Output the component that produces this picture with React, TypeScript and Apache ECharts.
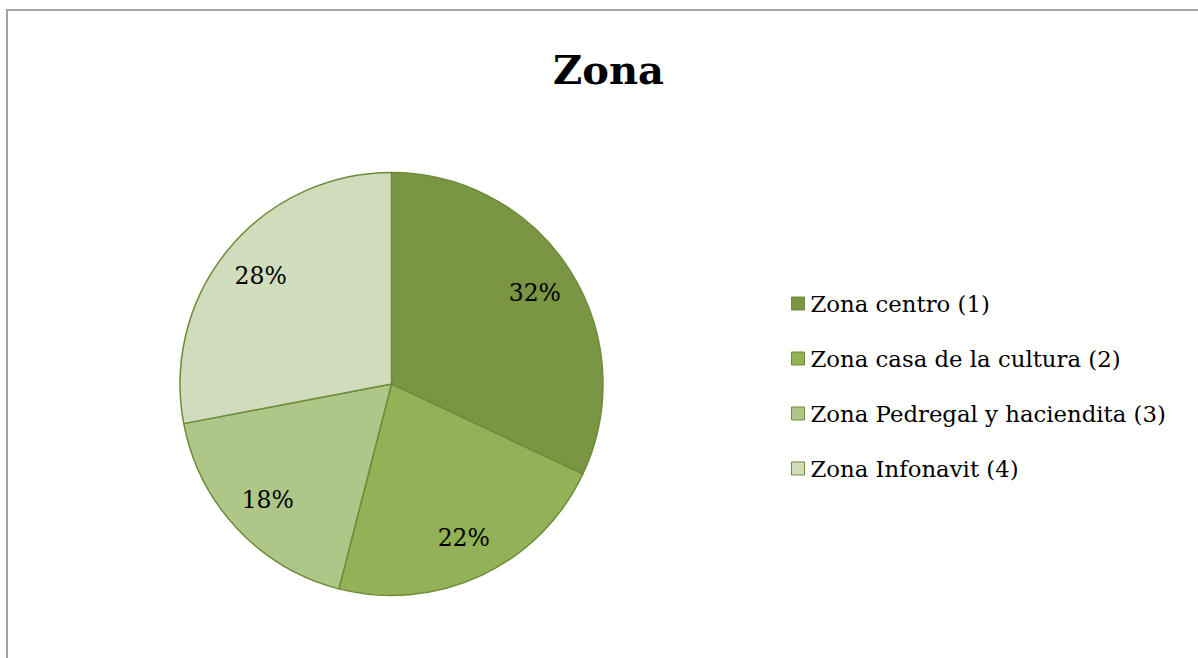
import React, { useEffect, useRef } from "react";
import * as echarts from "echarts";

const title = "Zona";
const categories = [
  "Zona centro (1)",
  "Zona casa de la cultura (2)",
  "Zona Pedregal y haciendita (3)",
  "Zona Infonavit (4)",
];
const values = [32, 22, 18, 28];
const colors = ["#7A9544", "#93B156", "#AEC688", "#D0DCBB"];

const FONT = "DejaVu Serif";

export default function App() {
  const ref = useRef<HTMLDivElement>(null);
  useEffect(() => {
    if (!ref.current) return;
    const chart = echarts.init(ref.current, undefined, { renderer: "svg" });
    const data = categories.map((name, i) => ({
      name,
      value: values[i],
      itemStyle: { color: colors[i] },
    }));
    const center = [391.5, 384];
    chart.setOption({
      animation: false,
      backgroundColor: "#ffffff",
      title: {
        text: title,
        left: 548,
        top: 44,
        textStyle: { fontFamily: FONT, fontSize: 40, fontWeight: "bold", color: "#000" },
      },
      legend: {
        orient: "vertical",
        left: 786,
        top: 286,
        itemWidth: 13,
        itemHeight: 13,
        itemGap: 30,
        icon: "rect",
        data: categories,
        itemStyle: { borderColor: "#6F8B38", borderWidth: 1 },
        textStyle: { fontFamily: FONT, fontSize: 22.8, color: "#000", lineHeight: 25, padding: [0, 0, 0, 1] },
      },
      graphic: [
        {
          type: "rect",
          shape: { x: 7, y: 10, width: 1200, height: 660 },
          style: { fill: "none", stroke: "#A3A3A3", lineWidth: 2 },
          silent: true,
        },
      ],
      series: [
        {
          type: "pie",
          center,
          radius: [0, 211.5],
          startAngle: 90,
          clockwise: true,
          label: { show: false },
          labelLine: { show: false },
          itemStyle: { borderColor: "#6F8B38", borderWidth: 1.5 },
          emphasis: { disabled: true },
          data,
        },
        {
          type: "pie",
          center,
          radius: [122, 211.5],
          startAngle: 90,
          clockwise: true,
          silent: true,
          legendHoverLink: false,
          itemStyle: { color: "rgba(0,0,0,0)", borderWidth: 0 },
          label: {
            show: true,
            position: "inside",
            formatter: "{c}%",
            fontFamily: FONT,
            fontSize: 23.5,
            color: "#000",
          },
          labelLine: { show: false },
          emphasis: { disabled: true },
          data: categories.map((name, i) => ({ name, value: values[i], itemStyle: { color: "rgba(0,0,0,0)" } })),
        },
      ],
    });
    return () => chart.dispose();
  }, []);
  return (
    <div
      ref={ref}
      style={{ position: "fixed", left: 0, top: 0, width: 1198, height: 658 }}
    />
  );
}
